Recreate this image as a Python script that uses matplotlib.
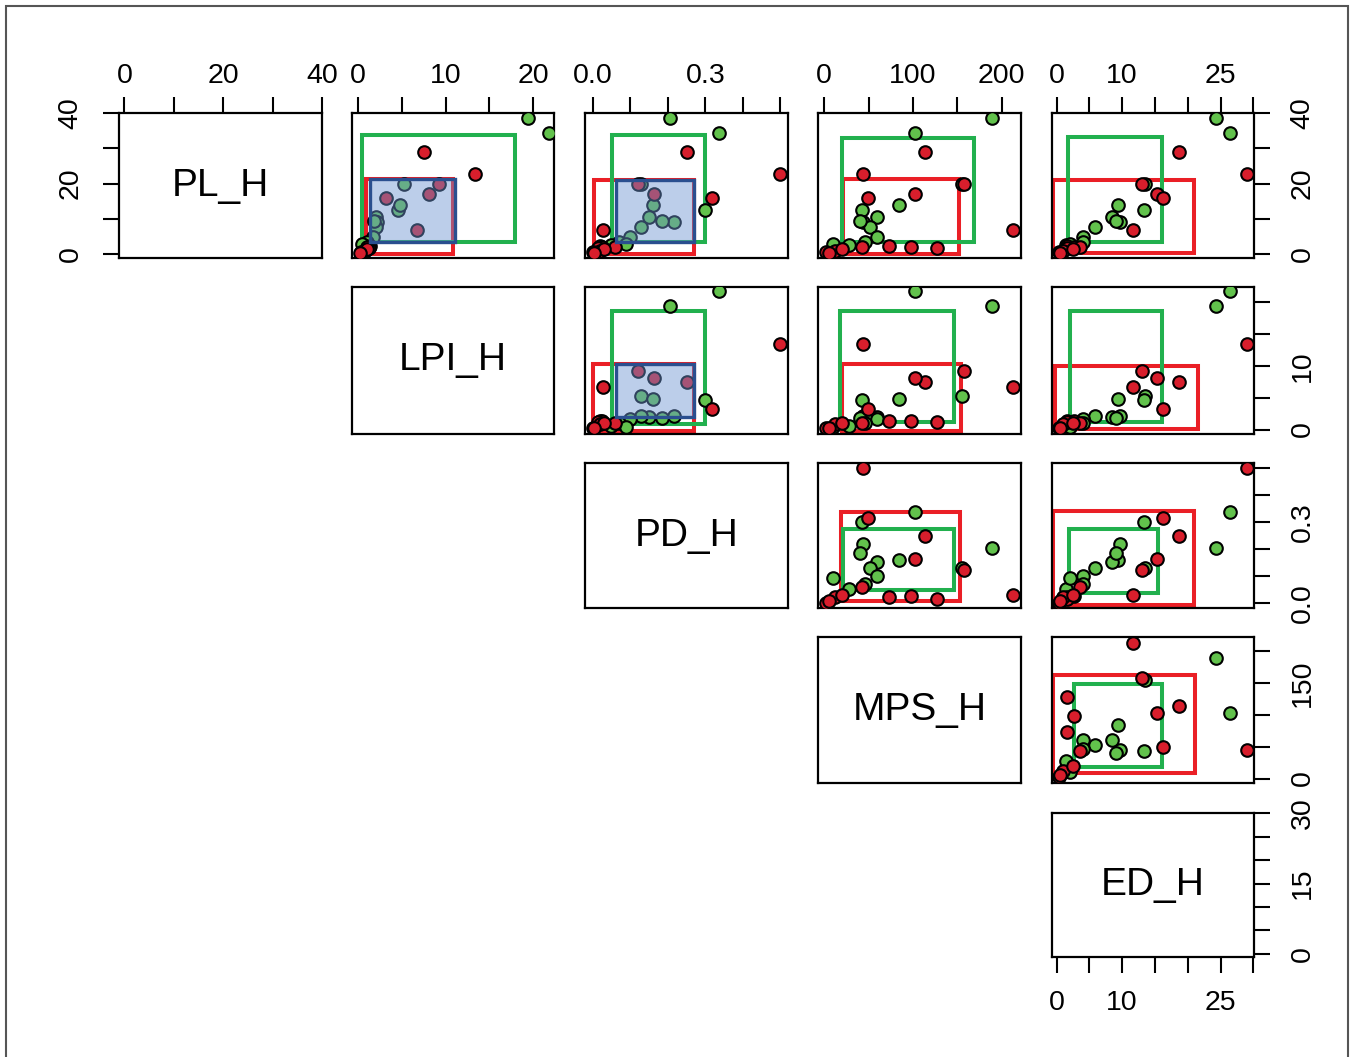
import matplotlib
matplotlib.use('Agg')
import matplotlib.pyplot as plt
from matplotlib.patches import Rectangle

plt.rcParams['font.family'] = ['Liberation Sans', 'DejaVu Sans']

variables = ['PL_H', 'LPI_H', 'PD_H', 'MPS_H', 'ED_H']

# ---- data: red group ----
red_PL  = [29.0, 22.7, 20.0, 17.0, 16.0, 6.8, 2.2, 2.0, 1.8, 2.0, 0.5, 1.0, 1.5, 0.3]
red_LPI = [7.5, 13.4, 9.2, 8.1, 3.2, 6.7, 1.4, 1.3, 1.2, 1.0, 0.3, 0.8, 1.0, 0.2]
red_PD  = [0.25, 0.50, 0.12, 0.163, 0.317, 0.028, 0.02, 0.025, 0.015, 0.06, 0.0, 0.02, 0.03, 0.005]
red_MPS = [113, 44, 157, 102, 49, 213, 73, 98, 127, 43, 2, 12, 20, 5]
red_ED  = [18.6, 29.0, 13.0, 15.3, 16.2, 11.6, 1.6, 2.7, 1.6, 3.6, 0.3, 1.0, 2.5, 0.5]

# ---- data: green group ----
green_PL  = [38.7, 34.2, 20.0, 12.5, 13.9, 10.6, 9.2, 7.7, 9.4, 4.9, 3.5, 2.6, 3.0]
green_LPI = [19.4, 21.8, 5.3, 4.6, 4.8, 2.0, 2.2, 2.1, 1.8, 1.7, 1.0, 0.6, 0.4]
green_PD  = [0.205, 0.336, 0.13, 0.30, 0.16, 0.15, 0.217, 0.13, 0.184, 0.10, 0.07, 0.05, 0.09]
green_MPS = [189, 102, 155, 43, 84, 60, 44, 52, 40, 60, 46, 28, 10]
green_ED  = [24.3, 26.4, 13.5, 13.3, 9.3, 8.4, 9.7, 5.8, 9.0, 4.1, 4.0, 1.4, 2.0]

red_data = {'PL_H': red_PL, 'LPI_H': red_LPI, 'PD_H': red_PD, 'MPS_H': red_MPS, 'ED_H': red_ED}
green_data = {'PL_H': green_PL, 'LPI_H': green_LPI, 'PD_H': green_PD, 'MPS_H': green_MPS, 'ED_H': green_ED}

# ---- range boxes per panel (row, col): (x0, x1, y0, y1) ----
red_boxes = {
    (0, 1): (0.9, 10.9, 0.0, 21.2),
    (0, 2): (0.003, 0.27, 0.0, 21.0),
    (0, 3): (21, 152, 0.0, 21.2),
    (0, 4): (-0.6, 21.0, 0.2, 21.0),
    (1, 2): (0.0, 0.269, -0.3, 10.3),
    (1, 3): (20, 154, -0.2, 10.3),
    (1, 4): (-0.3, 21.5, 0.1, 10.0),
    (2, 3): (19, 153, 0.005, 0.336),
    (2, 4): (-0.6, 21.0, -0.01, 0.342),
    (3, 4): (-0.6, 21.1, 9.3, 161.5),
}
green_boxes = {
    (0, 1): (0.4, 17.9, 3.5, 33.8),
    (0, 2): (0.053, 0.298, 3.3, 33.8),
    (0, 3): (19.5, 169, 3.3, 33.0),
    (0, 4): (1.7, 16.0, 3.5, 33.1),
    (1, 2): (0.053, 0.30, 0.9, 18.6),
    (1, 3): (17.8, 146.6, 1.2, 18.6),
    (1, 4): (2.1, 16.0, 1.2, 18.6),
    (2, 3): (20.8, 146.6, 0.046, 0.274),
    (2, 4): (1.9, 15.4, 0.037, 0.274),
    (3, 4): (2.6, 16.1, 18.2, 147.5),
}
blue_boxes = {
    (0, 1): (1.4, 11.1, 3.5, 21.2),
    (0, 2): (0.063, 0.269, 3.3, 21.0),
    (1, 2): (0.062, 0.27, 2.0, 10.3),
}

# ---- axis ranges and tick labels ----
limits = {'PL_H': (-1.1, 40.0), 'LPI_H': (-0.7, 22.4), 'PD_H': (-0.02, 0.52),
          'MPS_H': (-7, 221.7), 'ED_H': (-0.7, 30.1)}
tick_values = {'PL_H': [0, 10, 20, 30, 40], 'LPI_H': [0, 5, 10, 15, 20],
               'PD_H': [0.0, 0.1, 0.2, 0.3, 0.4, 0.5], 'MPS_H': [0, 50, 100, 150, 200],
               'ED_H': [0, 5, 10, 15, 20, 25, 30]}
top_labels = {'PL_H': ['0', '', '20', '', '40'], 'LPI_H': ['0', '', '10', '', '20'],
              'PD_H': ['0.0', '', '', '0.3', '', ''], 'MPS_H': ['0', '', '100', '', '200'],
              'ED_H': ['0', '', '10', '', '', '25', '']}
side_labels = {'PL_H': ['0', '', '20', '', '40'], 'LPI_H': ['0', '', '10', '', ''],
               'PD_H': ['0.0', '', '', '0.3', '', ''], 'MPS_H': ['0', '', '', '150', ''],
               'ED_H': ['0', '', '', '15', '', '', '30']}

# ---- layout (pixels) ----
W, H = 1352, 1057
col_px = [(119, 322), (352, 554), (585, 788), (818, 1021), (1052, 1254)]
row_px = [(113, 258), (287, 434), (463, 608), (637, 783), (813, 957)]

RED_PT = '#D81E2C'
GREEN_PT = '#62C24C'
RED_BOX = '#EA1F26'
GREEN_BOX = '#22B04E'
TICK_FS = 20.5
LAB_FS = 28

fig = plt.figure(figsize=(W / 100, H / 100), dpi=100)
fig.patch.set_facecolor('white')

# outer frame
fig.add_artist(Rectangle((6 / W, -0.01), (1348 - 6) / W, 1 - 6 / H + 0.01,
                         transform=fig.transFigure, fill=False,
                         edgecolor='#555555', linewidth=1.5))

n = len(variables)
for r in range(n):
    for c in range(r, n):
        x0, x1 = col_px[c]
        y0, y1 = row_px[r]
        ax = fig.add_axes([x0 / W, 1 - y1 / H, (x1 - x0) / W, (y1 - y0) / H])
        vx, vy = variables[c], variables[r]
        ax.set_xlim(*limits[vx])
        ax.set_ylim(*limits[vy])
        for s in ax.spines.values():
            s.set_linewidth(1.6)
            s.set_color('black')
        ax.set_xticks([])
        ax.set_yticks([])

        if r == c:
            ax.text(0.5, 0.5, vx, transform=ax.transAxes, ha='center', va='center',
                    fontsize=LAB_FS)
        else:
            key = (r, c)
            for boxes, col in ((red_boxes, RED_BOX), (green_boxes, GREEN_BOX)):
                bx0, bx1, by0, by1 = boxes[key]
                ax.add_patch(Rectangle((bx0, by0), bx1 - bx0, by1 - by0, fill=False,
                                       edgecolor=col, linewidth=2.9, zorder=2))
            ax.scatter(green_data[vx], green_data[vy], s=82, c=GREEN_PT,
                       edgecolors='black', linewidths=1.5, zorder=3)
            ax.scatter(red_data[vx], red_data[vy], s=82, c=RED_PT,
                       edgecolors='black', linewidths=1.5, zorder=3)
            if key in blue_boxes:
                bx0, bx1, by0, by1 = blue_boxes[key]
                ax.add_patch(Rectangle((bx0, by0), bx1 - bx0, by1 - by0,
                                       facecolor=(0.42, 0.58, 0.82, 0.45),
                                       edgecolor='#2A4F8F', linewidth=2.4, zorder=4))

        # top axis on first row
        if r == 0:
            ax.set_xticks(tick_values[vx])
            ax.set_xticklabels(top_labels[vx])
            ax.tick_params(axis='x', top=True, bottom=False, labeltop=True,
                           labelbottom=False, direction='out', length=11.5,
                           width=1.5, pad=6, labelsize=TICK_FS)
        # bottom axis on last panel
        if r == n - 1 and c == n - 1:
            ax.set_xticks(tick_values[vx])
            ax.set_xticklabels(top_labels[vx])
            ax.tick_params(axis='x', top=False, bottom=True, labeltop=False,
                           labelbottom=True, direction='out', length=11.5,
                           width=1.5, pad=12, labelsize=TICK_FS)
        # right axis on last column
        if c == n - 1:
            ax.set_yticks(tick_values[vy])
            ax.set_yticklabels(side_labels[vy], rotation=90, va='center')
            ax.tick_params(axis='y', left=False, right=True, labelleft=False,
                           labelright=True, direction='out', length=11.5,
                           width=1.5, pad=14, labelsize=TICK_FS)
        # left axis on first panel
        if r == 0 and c == 0:
            ax.set_yticks(tick_values[vy])
            ax.set_yticklabels(side_labels[vy], rotation=90, va='center')
            ax.tick_params(axis='y', left=True, right=False, labelleft=True,
                           labelright=False, direction='out', length=11.5,
                           width=1.5, pad=14, labelsize=TICK_FS)

fig.savefig('out.png', dpi=100, facecolor='white')
